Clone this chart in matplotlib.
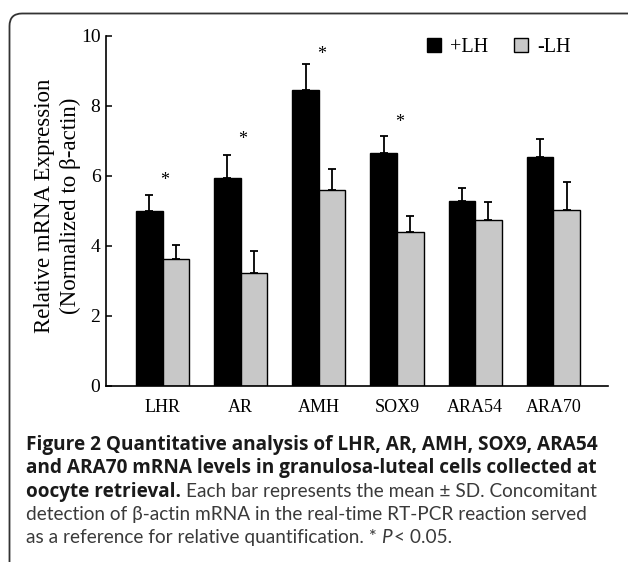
import matplotlib
matplotlib.use("Agg")
import matplotlib.pyplot as plt
from matplotlib.patches import FancyBboxPatch, Patch
import numpy as np

W, H = 628, 562

genes = ["LHR", "AR", "AMH", "SOX9", "ARA54", "ARA70"]
plus_lh = [5.00, 5.93, 8.46, 6.65, 5.30, 6.53]
plus_sd = [0.47, 0.66, 0.74, 0.48, 0.35, 0.53]
minus_lh = [3.62, 3.23, 5.60, 4.41, 4.73, 5.04]
minus_sd = [0.42, 0.62, 0.59, 0.44, 0.54, 0.79]
star_idx = [0, 1, 2, 3]
star_y = [5.88, 7.03, 9.48, 7.53]
series_names = ["+LH", "-LH"]
grey = "#c8c8c8"

plt.rcParams["font.family"] = ["Liberation Serif", "DejaVu Serif"]


def fx(x):
    return x / W


def fy(y):
    return 1 - y / H


fig = plt.figure(figsize=(W / 100, H / 100), dpi=100)

# rounded frame around figure + caption (runs off the right/bottom edge)
frame = FancyBboxPatch((fx(9.5), fy(620)), fx(700), (620 - 13.5) / H,
                       boxstyle="round,pad=0,rounding_size=0.02",
                       mutation_aspect=W / H,
                       transform=fig.transFigure, fill=False,
                       ec="#333333", lw=1.3)
fig.patches.append(frame)

ax = fig.add_axes([fx(106), fy(386), (608 - 106) / W, (386 - 36) / H])

x = np.arange(len(genes))
w = 0.34
zeros = np.zeros(len(genes))
ekw = dict(ecolor="black", elinewidth=1.3, capsize=3, capthick=1.3)
ax.bar(x - w / 2, plus_lh, w, color="black", edgecolor="black", lw=1,
       yerr=[zeros, plus_sd], error_kw=ekw)
ax.bar(x + w / 2, minus_lh, w, color=grey, edgecolor="black", lw=1,
       yerr=[zeros, minus_sd], error_kw=ekw)

for i, yv in zip(star_idx, star_y):
    ax.text(x[i] + 0.03, yv, "*", ha="center", va="center", fontsize=13)

ax.set_xlim(-0.725, 5.70)
ax.set_ylim(0, 10)
for s in ["top", "right"]:
    ax.spines[s].set_visible(False)
for s in ["left", "bottom"]:
    ax.spines[s].set_linewidth(1.2)
ax.set_yticks([0, 2, 4, 6, 8, 10])
ax.tick_params(axis="y", direction="in", length=4, width=1.1, labelsize=14, pad=4)
ax.set_xticks(x)
ax.set_xticklabels(genes)
ax.tick_params(axis="x", length=0, pad=9, labelsize=13)

fig.text(fx(57.5), fy(206), "Relative mRNA Expression\n(Normalized to \u03b2-actin)",
         rotation=90, ha="center", va="center", fontsize=16.5, linespacing=1.25)

handles = [Patch(fc="black", ec="black"), Patch(fc=grey, ec="black")]
ax.legend(handles, series_names, ncol=2, frameon=False, loc="upper right",
          bbox_to_anchor=(fx(571), fy(38)), bbox_transform=fig.transFigure,
          handlelength=0.7, handleheight=0.7, handletextpad=0.45,
          columnspacing=1.3, fontsize=14.5, borderaxespad=0, borderpad=0)

# caption, sizes fitted so lines end where the printed ones do
bold_font = ["Open Sans", "DejaVu Sans"]
reg_font = ["Lato", "Open Sans", "DejaVu Sans"]
renderer = fig.canvas.get_renderer()
left = 26


def width_at(s, size, fam, **kw):
    t = fig.text(0, 0, s, family=fam, fontsize=size, **kw)
    wd = t.get_window_extent(renderer).width
    t.remove()
    return wd


bold_size = 12 * (598 - left) / width_at(
    "Figure 2 Quantitative analysis of LHR, AR, AMH, SOX9, ARA54", 12,
    bold_font, weight="bold")
reg_size = 12 * (585 - left) / width_at(
    "detection of \u03b2-actin mRNA in the real-time RT-PCR reaction served", 12,
    reg_font)


def put(xp, yp, s, bold=False, **kw):
    t = fig.text(fx(xp), fy(yp), s,
                 family=bold_font if bold else reg_font,
                 fontsize=bold_size if bold else reg_size,
                 color="#1a1a1a" if bold else "#3a3a3a",
                 weight="bold" if bold else "normal",
                 va="baseline", ha="left", **kw)
    return t.get_window_extent(renderer).x1


put(left, 450, "Figure 2 Quantitative analysis of LHR, AR, AMH, SOX9, ARA54", bold=True)
put(left, 473, "and ARA70 mRNA levels in granulosa-luteal cells collected at", bold=True)
xe = put(left, 497, "oocyte retrieval.", bold=True)
put(xe + 5, 497, "Each bar represents the mean \u00b1 SD. Concomitant")
put(left, 520, "detection of \u03b2-actin mRNA in the real-time RT-PCR reaction served")
xe = put(left, 543, "as a reference for relative quantification. *")
xe = put(xe + 4, 543, "P", style="italic")
put(xe + 2, 543, "< 0.05.")

fig.savefig("out.png", dpi=100)
